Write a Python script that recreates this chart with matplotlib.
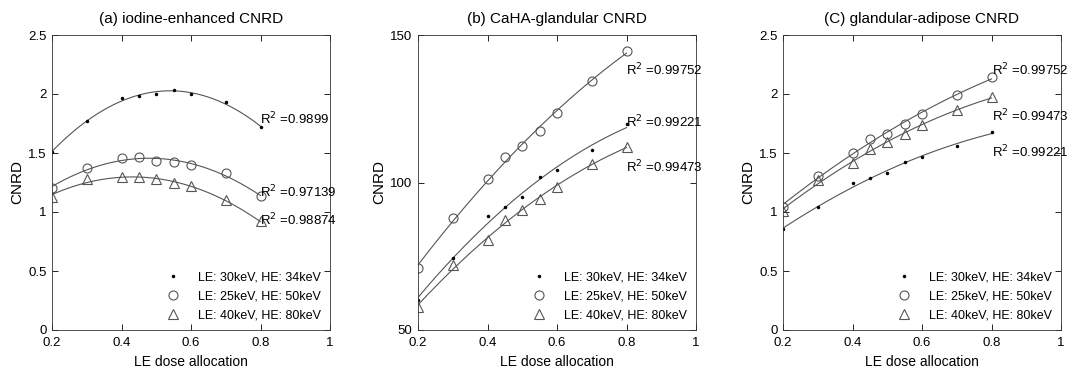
import numpy as np
import matplotlib
matplotlib.use("Agg")
import matplotlib.pyplot as plt

plt.rcParams['font.family'] = ['Liberation Sans', 'DejaVu Sans']

x = [0.2, 0.3, 0.4, 0.45, 0.5, 0.55, 0.6, 0.7, 0.8]
labels = ["LE: 30keV, HE: 34keV", "LE: 25keV, HE: 50keV", "LE: 40keV, HE: 80keV"]
titles = ["(a) iodine-enhanced CNRD", "(b) CaHA-glandular CNRD", "(C) glandular-adipose CNRD"]

# panel (a)
a_30_34 = [1.51, 1.77, 1.97, 1.98, 2.00, 2.03, 2.00, 1.935, 1.72]
a_25_50 = [1.20, 1.375, 1.455, 1.47, 1.43, 1.42, 1.395, 1.333, 1.135]
a_40_80 = [1.13, 1.28, 1.295, 1.295, 1.28, 1.243, 1.218, 1.10, 0.92]
a_r2 = ["0.9899", "0.97139", "0.98874"]
a_r2_y = [1.79, 1.17, 0.93]

# panel (b)
b_30_34 = [60.2, 74.3, 88.6, 91.8, 95.0, 101.8, 104.2, 111.0, 120.0]
b_25_50 = [70.9, 87.9, 101.1, 108.8, 112.4, 117.5, 123.4, 134.4, 144.7]
b_40_80 = [57.7, 72.0, 80.5, 87.3, 90.7, 94.4, 98.6, 106.2, 112.1]
b_r2 = ["0.99221", "0.99752", "0.99473"]
b_r2_y = [120.6, 138.1, 105.4]

# panel (c)
c_30_34 = [0.853, 1.045, 1.243, 1.285, 1.333, 1.427, 1.463, 1.559, 1.681]
c_25_50 = [1.045, 1.305, 1.503, 1.619, 1.661, 1.743, 1.831, 1.992, 2.141]
c_40_80 = [1.011, 1.268, 1.412, 1.531, 1.593, 1.661, 1.734, 1.864, 1.972]
c_r2 = ["0.99221", "0.99752", "0.99473"]
c_r2_y = [1.511, 2.203, 1.817]

panels = [
    dict(series=[a_30_34, a_25_50, a_40_80], r2=a_r2, r2y=a_r2_y,
         ylim=(0, 2.5), yticks=[0, 0.5, 1, 1.5, 2, 2.5], yticklabels=["0", "0.5", "1", "1.5", "2", "2.5"]),
    dict(series=[b_30_34, b_25_50, b_40_80], r2=b_r2, r2y=b_r2_y,
         ylim=(50, 150), yticks=[50, 100, 150], yticklabels=["50", "100", "150"]),
    dict(series=[c_30_34, c_25_50, c_40_80], r2=c_r2, r2y=c_r2_y,
         ylim=(0, 2.5), yticks=[0, 0.5, 1, 1.5, 2, 2.5], yticklabels=["0", "0.5", "1", "1.5", "2", "2.5"]),
]

W, H = 1067, 372
fig = plt.figure(figsize=(W / 100, H / 100), dpi=100)
lefts = [52, 418, 783]
markers = [dict(marker='.', markersize=3, color='black'),
           dict(marker='o', markersize=6.5, markerfacecolor='none', markeredgecolor='#555555', markeredgewidth=0.8),
           dict(marker='^', markersize=6.5, markerfacecolor='none', markeredgecolor='#555555', markeredgewidth=0.8)]
line_color = '#555555'

for i, p in enumerate(panels):
    ax = fig.add_axes([lefts[i] / W, (H - 330) / H, 278 / W, 295 / H])
    xs = np.array(x)
    xf = np.linspace(0.2, 0.8, 200)
    handles = []
    for k, s in enumerate(p['series']):
        coef = np.polyfit(xs, np.array(s), 2)
        ax.plot(xf, np.polyval(coef, xf), color=line_color, lw=0.8)
        h, = ax.plot(xs, s, linestyle='none', **markers[k])
        handles.append(h)
        ax.text(0.8, p['r2y'][k], "R$^2$ =" + p['r2'][k], fontsize=9.5, va='center', ha='left')
    ax.set_xlim(0.2, 1)
    ax.set_ylim(*p['ylim'])
    ax.set_xticks([0.2, 0.4, 0.6, 0.8, 1])
    ax.set_xticklabels(["0.2", "0.4", "0.6", "0.8", "1"])
    ax.set_yticks(p['yticks'])
    ax.set_yticklabels(p['yticklabels'])
    ax.tick_params(direction='in', top=True, right=True, length=4, width=0.6, labelsize=9.5)
    ax.tick_params(axis='x', pad=5)
    ax.tick_params(axis='y', pad=4)
    for sp in ax.spines.values():
        sp.set_linewidth(0.6)
        sp.set_color('#333333')
    ax.set_title(titles[i], fontsize=11, pad=9)
    ax.set_xlabel("LE dose allocation", fontsize=10, labelpad=4)
    ax.set_ylabel("CNRD", fontsize=11, labelpad=3)
    ax.legend(handles, labels, loc='lower right', frameon=False, fontsize=9,
              handlelength=1.5, handletextpad=1.3, labelspacing=0.55, borderaxespad=0.3)

fig.savefig("out.png", dpi=100)
